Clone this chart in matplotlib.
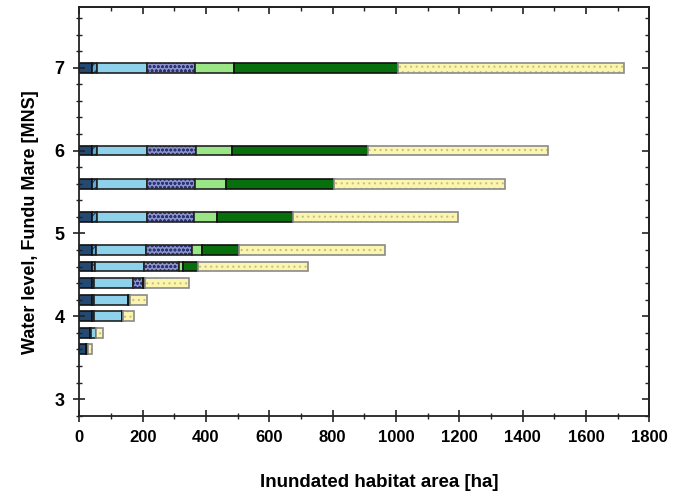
import matplotlib.pyplot as plt
from matplotlib.ticker import MultipleLocator

plt.rcParams['font.family'] = ['Liberation Sans', 'DejaVu Sans']
plt.rcParams['hatch.linewidth'] = 0.8

# water levels (m above MNS) at which the inundated area was computed
levels = [7.0, 6.0, 5.6, 5.2, 4.8, 4.6, 4.4, 4.2, 4.0, 3.8, 3.6]

# inundated area per habitat class [ha]
deep_water = [41, 41, 41, 41, 41, 39, 39, 39, 41, 34, 20]
channels = [15, 15, 15, 15, 11, 11, 8, 8, 4, 3, 4]
lakes = [158, 158, 158, 158, 159, 155, 122, 108, 89, 16, 0]
marsh = [151, 153, 151, 149, 144, 110, 31, 0, 0, 0, 0]
meadow = [122, 114, 99, 73, 32, 13, 0, 0, 0, 0, 0]
forest = [518, 430, 339, 238, 116, 48, 7, 5, 5, 0, 2]
agricultural = [715, 570, 541, 521, 463, 345, 140, 53, 34, 23, 13]

series = [
    # values, face, hatch, hatch colour, outline
    (deep_water, '#244a73', None, None, '#111111'),
    (channels, '#5da9d6', '////', '#1c3f66', '#111111'),
    (lakes, '#8dd2ea', None, None, '#222222'),
    (marsh, '#8c93c9', 'oooo', '#2a3578', '#222222'),
    (meadow, '#9ae585', None, None, '#222222'),
    (forest, '#076f0b', None, None, '#111111'),
    (agricultural, '#fcf5ac', '...', '#c4bf90', '#8a8a8a'),
]

fig = plt.figure(figsize=(6.86, 4.96), dpi=100)
ax = fig.add_axes([0.1156, 0.162, 0.831, 0.8235])

bar_h = 0.12
left = [0] * len(levels)
for vals, face, hatch, hcol, edge in series:
    if hatch:
        ax.barh(levels, vals, height=bar_h, left=left, color=face,
                hatch=hatch, edgecolor=hcol, linewidth=0)
    else:
        ax.barh(levels, vals, height=bar_h, left=left, color=face, linewidth=0)
    ax.barh(levels, vals, height=bar_h, left=left, fill=False,
            edgecolor=edge, linewidth=1.2)
    left = [a + b for a, b in zip(left, vals)]

ax.set_xlim(0, 1800)
ax.set_ylim(2.8, 7.73)
ax.xaxis.set_major_locator(MultipleLocator(200))
ax.xaxis.set_minor_locator(MultipleLocator(100))
ax.yaxis.set_major_locator(MultipleLocator(1))
ax.yaxis.set_minor_locator(MultipleLocator(0.2))

for side in ax.spines.values():
    side.set_linewidth(1.3)
    side.set_color('#222222')

ax.tick_params(which='major', direction='inout', length=9, width=1.2,
               color='#222222')
ax.tick_params(which='minor', direction='inout', length=5, width=1.0,
               color='#222222')
ax.tick_params(axis='x', which='major', labelsize=12, pad=6)
ax.tick_params(axis='y', which='major', labelsize=13, pad=6)
for lab in ax.get_xticklabels() + ax.get_yticklabels():
    lab.set_fontweight('bold')

# inward ticks on the top and right frame, no labels
top = ax.secondary_xaxis('top')
top.xaxis.set_major_locator(MultipleLocator(200))
top.xaxis.set_minor_locator(MultipleLocator(100))
top.tick_params(which='major', direction='in', length=5, width=1.2,
                labeltop=False, color='#222222')
top.tick_params(which='minor', direction='in', length=3, width=1.0,
                color='#222222')
right = ax.secondary_yaxis('right')
right.yaxis.set_major_locator(MultipleLocator(1))
right.yaxis.set_minor_locator(MultipleLocator(0.2))
right.tick_params(which='major', direction='in', length=5, width=1.2,
                  labelright=False, color='#222222')
right.tick_params(which='minor', direction='in', length=3, width=1.0,
                  color='#222222')
for sec in (top, right):
    for side in sec.spines.values():
        side.set_linewidth(1.3)
        side.set_color('#222222')

ax.set_xlabel('Inundated habitat area [ha]', fontsize=13.5, fontweight='bold')
ax.set_ylabel('Water level, Fundu Mare [MNS]', fontsize=13, fontweight='bold')
ax.xaxis.set_label_coords(0.526, -0.143)
ax.yaxis.set_label_coords(-0.071, 0.475)

fig.savefig('out.png', dpi=100)
